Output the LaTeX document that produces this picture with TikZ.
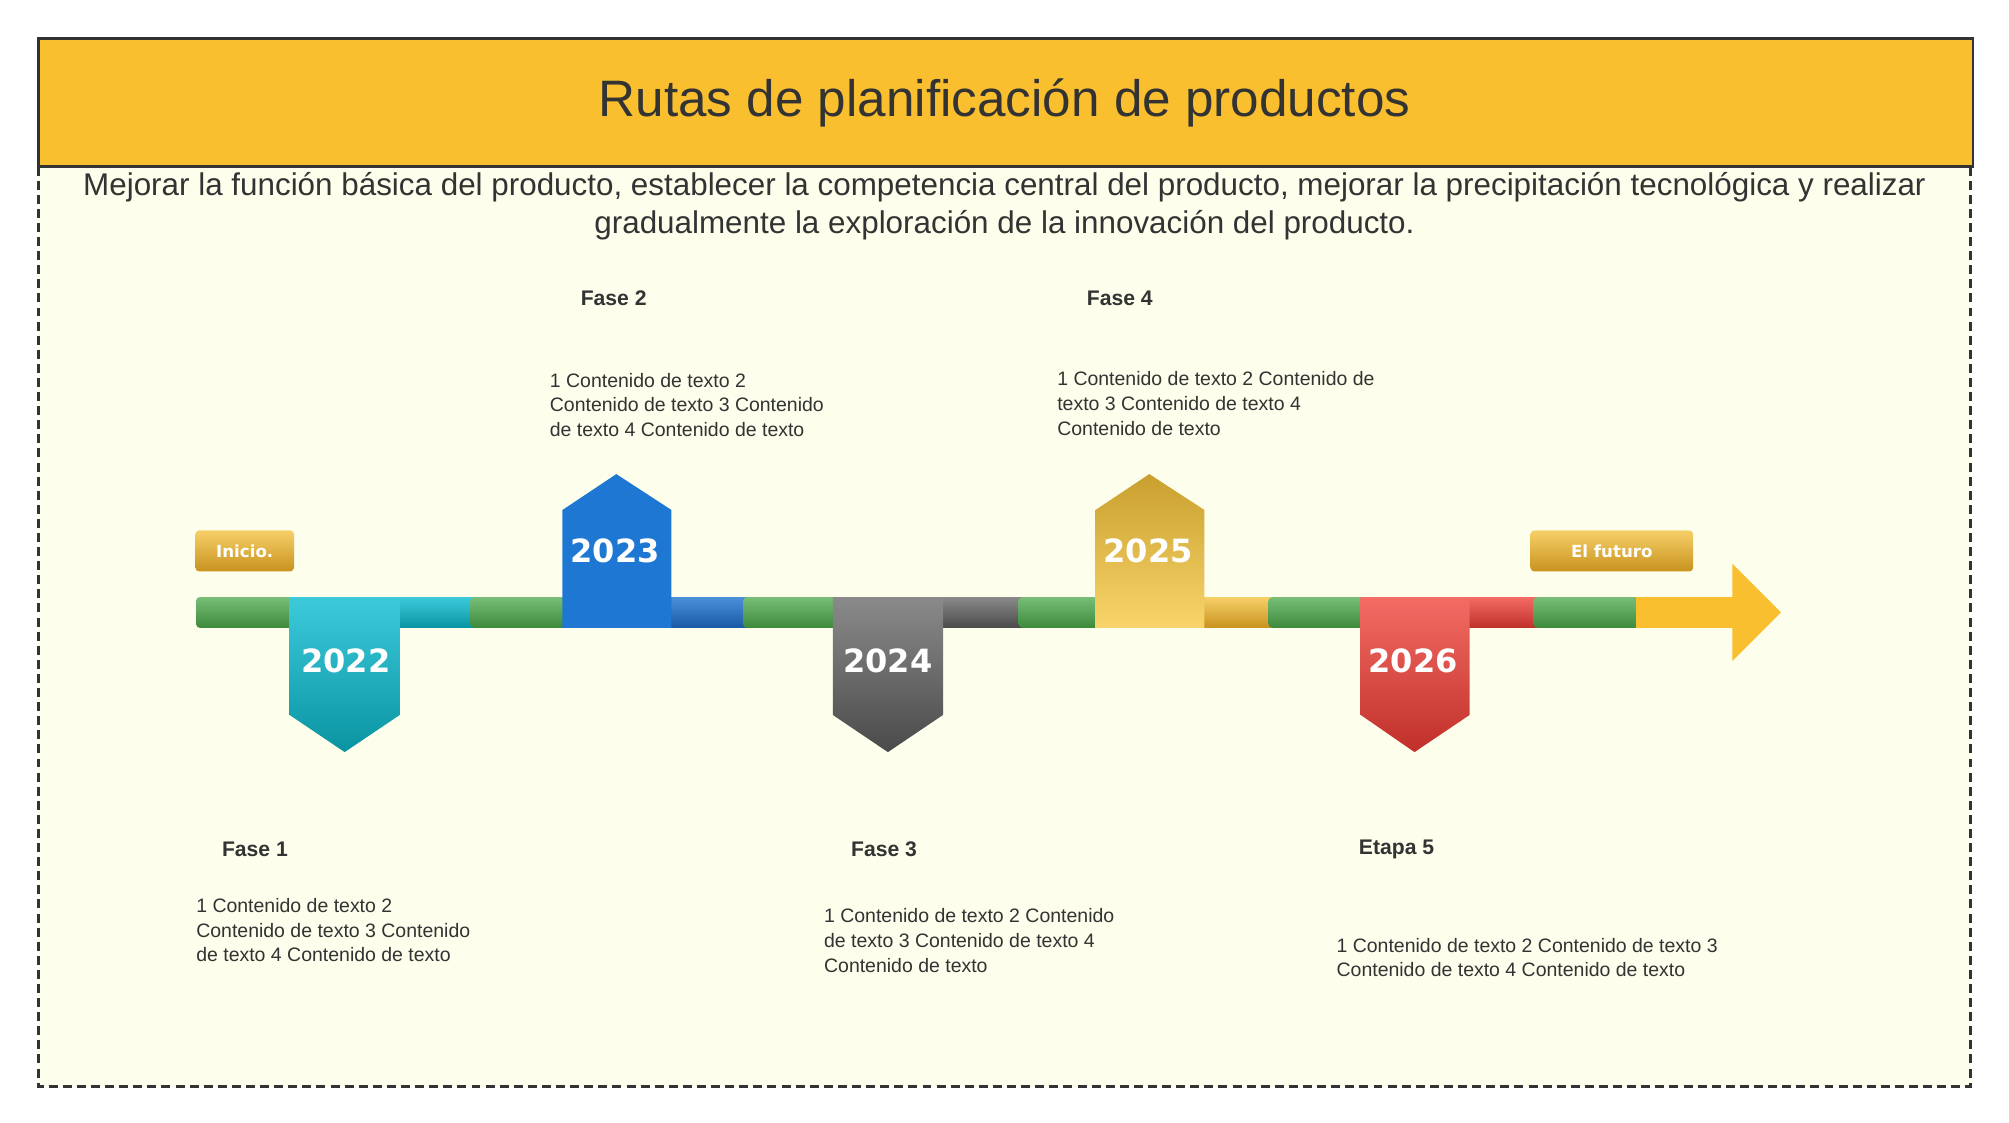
\documentclass[tikz,border=0pt]{standalone}
\usepackage{fontspec}
\setmainfont{Liberation Sans}
\newfontfamily\yearfont{DejaVu Sans}
\definecolor{hdr}{HTML}{F9BF2F}
\definecolor{bgc}{HTML}{FEFEEC}
\definecolor{gT}{HTML}{78BE78}
\definecolor{gB}{HTML}{3C8A3C}
\definecolor{cT}{HTML}{3CCADB}
\definecolor{cB}{HTML}{0A94A2}
\definecolor{bT}{HTML}{4A90D9}
\definecolor{bB}{HTML}{1A58A6}
\definecolor{b23}{HTML}{1E77D2}
\definecolor{kT}{HTML}{8A8A8A}
\definecolor{kB}{HTML}{4A4A4A}
\definecolor{oT}{HTML}{F6D068}
\definecolor{oB}{HTML}{C8921E}
\definecolor{yT}{HTML}{C9A02F}
\definecolor{yB}{HTML}{F8D46A}
\definecolor{rT}{HTML}{F36C64}
\definecolor{rB}{HTML}{C0302A}
\begin{document}
\begin{tikzpicture}[x=1pt,y=-1pt,
  body/.style={anchor=north west,align=left,font=\fontsize{15.2}{19.3}\selectfont,text=black!80,inner sep=0pt},
  fase/.style={font=\fontsize{16.5}{19}\selectfont\bfseries,text=black!80},
  yr/.style={font=\yearfont\fontsize{25}{28}\selectfont\bfseries,text=white},
  tag/.style={rounded corners=3pt,top color=oT,bottom color=oB,text=white,font=\yearfont\fontsize{13}{15}\selectfont\bfseries}]
\useasboundingbox (0,0) rectangle (1568,876);
\fill[white] (0,0) rectangle (1568,876);
\filldraw[fill=bgc,draw=black!80,dash pattern=on 7pt off 4pt,line width=1.8pt] (30,130) rectangle (1538,848);
\filldraw[fill=hdr,draw=black!80,line width=1.8pt] (30,30) rectangle (1540,130);
\node (title) at (784,80) {\fontsize{40}{44}\selectfont\color{black!80}Rutas de planificación de productos};
\node[align=center,font=\fontsize{24.5}{30}\selectfont,text=black!80] (sub) at (784,161) {Mejorar la función básica del producto, establecer la competencia central del producto, mejorar la precipitación tecnológica y realizar\\gradualmente la exploración de la innovación del producto.};
% bar segments
\def\seg#1#2#3#4{\shade[top color=#3,bottom color=#4,rounded corners=3pt] (#1,466) rectangle (#2,490);}
\seg{153}{240}{gT}{gB}
\seg{300}{375}{cT}{cB}
\seg{367}{450}{gT}{gB}
\seg{515}{588}{bT}{bB}
\seg{580}{660}{gT}{gB}
\seg{725}{803}{kT}{kB}
\seg{795}{865}{gT}{gB}
\seg{930}{998}{oT}{oB}
\seg{990}{1072}{gT}{gB}
\seg{1140}{1205}{rT}{rB}
\seg{1197}{1285}{gT}{gB}
\fill[hdr] (1277,466) -- (1352,466) -- (1352,440) -- (1390,478) -- (1352,516) -- (1352,490) -- (1277,490) -- cycle;
% banners
\shade[top color=cT,bottom color=cB] (226,466) -- (312,466) -- (312,558) -- (269,587) -- (226,558) -- cycle;
\node[yr] (y22) at (270,516) {2022};
\fill[b23] (439,490) -- (439,398) -- (481,370) -- (524,398) -- (524,490) -- cycle;
\node[yr] (y23) at (480,430) {2023};
\shade[top color=kT,bottom color=kB] (650,466) -- (736,466) -- (736,558) -- (693,587) -- (650,558) -- cycle;
\node[yr] (y24) at (693,516) {2024};
\shade[top color=yT,bottom color=yB] (855,490) -- (855,398) -- (897,370) -- (940,398) -- (940,490) -- cycle;
\node[yr] (y25) at (896,430) {2025};
\shade[top color=rT,bottom color=rB] (1062,466) -- (1147,466) -- (1147,558) -- (1104,587) -- (1062,558) -- cycle;
\node[yr] (y26) at (1103,516) {2026};
% tags
\node[tag,minimum width=77pt,minimum height=32pt] (ini) at (191,430) {Inicio.};
\node[tag,minimum width=127pt,minimum height=32pt] (fut) at (1258,430) {El futuro};
% labels
\node[fase] (f2) at (479,233) {Fase 2};
\node[body] (t2) at (429,291) {1 Contenido de texto 2\\Contenido de texto 3 Contenido\\de texto 4 Contenido de texto};
\node[fase] (f4) at (874,233) {Fase 4};
\node[body] (t4) at (825,290) {1 Contenido de texto 2 Contenido de\\texto 3 Contenido de texto 4\\Contenido de texto};
\node[fase] (f1) at (199,663) {Fase 1};
\node[body] (t1) at (153,701) {1 Contenido de texto 2\\Contenido de texto 3 Contenido\\de texto 4 Contenido de texto};
\node[fase] (f3) at (690,663) {Fase 3};
\node[body] (t3) at (643,709) {1 Contenido de texto 2 Contenido\\de texto 3 Contenido de texto 4\\Contenido de texto};
\node[fase] (f5) at (1090,663) {Etapa 5};
\node[body] (t5) at (1043,732) {1 Contenido de texto 2 Contenido de texto 3\\Contenido de texto 4 Contenido de texto};
\end{tikzpicture}
\end{document}
